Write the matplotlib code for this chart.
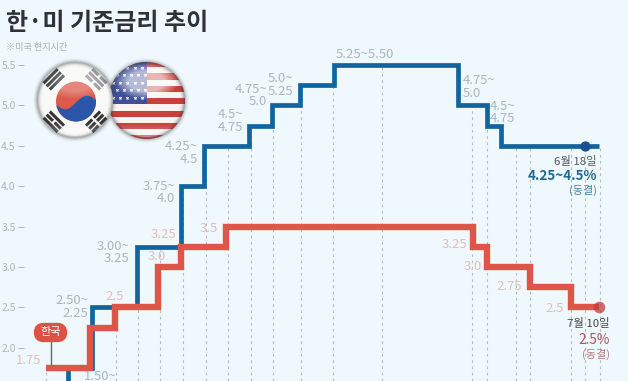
import numpy as np
import matplotlib
matplotlib.use('Agg')
import matplotlib.pyplot as plt
from matplotlib.patches import Circle, Rectangle, Polygon, FancyBboxPatch

BG = '#EEF8FD'
BLUE = '#10659F'
RED = '#E0554A'
GRAY_TXT = '#A9B7BE'
PINK_TXT = '#E3BDB8'
NARROW = ['Liberation Sans Narrow', 'Noto Sans CJK KR']
KOR = ['Noto Sans CJK KR', 'DejaVu Sans']

# step data, x is the position along the time line
us_x = [68, 68, 92, 137, 181, 204, 249, 272, 300, 334, 458, 487, 501, 599]
us_rate = [1.0, 1.75, 2.5, 3.25, 4.0, 4.5, 4.75, 5.0, 5.25, 5.5, 5.0, 4.75, 4.5, 4.5]
kr_x = [46, 90, 115, 158, 181, 226, 473, 487, 530, 571, 599]
kr_rate = [1.75, 2.25, 2.5, 3.0, 3.25, 3.5, 3.25, 3.0, 2.75, 2.5, 2.5]

guide_x = [46, 115.6, 138, 160, 183, 205.6, 228, 250.6, 272.6, 300.6, 333, 381.7,
           472, 486.7, 516, 529.7, 570.7, 585, 599.7]
guide_top = [1.75, 2.5, 3.25, 3.25, 4.0, 4.5, 4.5, 4.75, 5.0, 5.25, 5.5, 5.5,
             5.0, 4.75, 4.5, 4.5, 4.5, 4.5, 4.5]

y_ticks = [2.0, 2.5, 3.0, 3.5, 4.0, 4.5, 5.0, 5.5]

# text, anchor x, centre y of the text, alignment
us_labels = [
    ('1.50~', 117, 376, 'right'),
    ('2.50~\n2.25', 88, 307, 'right'),
    ('3.00~\n3.25', 129, 252.5, 'right'),
    ('3.75~\n4.0', 175, 192.5, 'right'),
    ('4.25~\n4.5', 198, 153, 'right'),
    ('4.5~\n4.75', 243, 121, 'right'),
    ('4.75~\n5.0', 267, 95.5, 'right'),
    ('5.0~\n5.25', 293, 85, 'right'),
    ('5.25~5.50', 336, 54, 'left'),
    ('4.75~\n5.0', 463, 87, 'left'),
    ('4.5~\n4.75', 490, 112.5, 'left'),
]
kr_labels = [
    ('1.75', 41, 361), ('2.5', 124, 297), ('3.0', 166, 257), ('3.25', 176, 235),
    ('3.5', 218, 229), ('3.25', 467, 244), ('3.0', 482, 266), ('2.75', 522, 286),
    ('2.5', 564, 309),
]

fig = plt.figure(figsize=(6.28, 3.81), dpi=100, facecolor=BG)

# main chart, y axis in percent
ax = fig.add_axes([24 / 628, 0, 604 / 628, 1])
ax.set_facecolor(BG)
ax.set_xlim(24, 628)
ax.set_ylim(5.5 - 316 / 80.8, 5.5 + 65 / 80.8)
ax.vlines(guide_x, ax.get_ylim()[0], guide_top, colors='#B3BBBF', lw=0.8,
          linestyles=(0, (2.4, 3.2)), zorder=1)
ax.plot(us_x, us_rate, drawstyle='steps-post', color=BLUE, lw=3.4,
        solid_joinstyle='miter', solid_capstyle='butt', zorder=2)
ax.plot(kr_x, kr_rate, drawstyle='steps-post', color=RED, lw=4.6,
        solid_joinstyle='miter', solid_capstyle='butt', zorder=3)
ax.plot([585], [4.5], 'o', ms=7.4, color='#1A4F96', mew=0, zorder=4)
ax.plot([599], [2.5], 'o', ms=8.4, color='#C43A3A', alpha=0.75, mew=0, zorder=4)
for s in ax.spines.values():
    s.set_visible(False)
ax.set_xticks([])
ax.set_yticks(y_ticks)
ax.set_yticklabels(['%.1f' % v for v in y_ticks], family=NARROW, fontsize=7.5, color=GRAY_TXT)
ax.tick_params(axis='y', length=4, width=0.7, color=GRAY_TXT, pad=2)

# overlay in pixels for the labels and the flags
ov = fig.add_axes([0, 0, 1, 1], facecolor='none')
ov.set_xlim(0, 628)
ov.set_ylim(381, 0)
ov.set_autoscale_on(False)
ov.axis('off')


def gloss(cx, cy, r, top, z):
    n = 220
    span = r + 5
    yy, xx = np.mgrid[-span:span:n * 1j, -span:span:n * 1j]
    d = np.sqrt(xx ** 2 + yy ** 2) / r
    img = np.ones((n, n, 4))
    # dark rim and soft outer shadow
    rim = np.clip((d - 0.86) / 0.14, 0, 1) ** 2 * 0.5
    rim[d > 1] = (np.clip((1 + 5 / r - d[d > 1]) / (5 / r), 0, 1) ** 2) * 0.4
    shine = np.clip(1 - np.sqrt((xx / (0.85 * r)) ** 2 + ((yy + 0.5 * r) / (0.48 * r)) ** 2), 0, 1)
    shine = np.clip(shine * 2.2, 0, 1) * top
    shine[d > 1] = 0
    low = np.clip((yy / r - 0.6) / 0.4, 0, 1) * 0.45
    low[d > 0.96] = 0
    white = np.maximum(shine, low)
    alpha = white + rim * (1 - white)
    shade = 0.25 + 0.75 * white / np.maximum(alpha, 1e-6)
    img[..., 0] = shade
    img[..., 1] = shade
    img[..., 2] = shade
    img[..., 3] = alpha
    ov.imshow(img, extent=(cx - span, cx + span, cy + span, cy - span), aspect='auto',
              interpolation='bilinear', zorder=z)


def us_flag(cx, cy, r):
    c = Circle((cx, cy), r, fc='#F7F4F2', ec='none', zorder=5)
    ov.add_patch(c)
    for top in np.arange(61, 141, 12.4):
        p = ov.add_patch(Rectangle((cx - r, top), 2 * r, 6.2, fc='#C8403A', ec='none', zorder=5))
        p.set_clip_path(c)
    p = ov.add_patch(Rectangle((cx - r, cy - r), r, 41.5, fc='#3E4F98', ec='none', zorder=6))
    p.set_clip_path(c)
    for i, sy in enumerate(np.arange(68, 103, 7.4)):
        shift = 3.5 if i % 2 else 0
        for sx in np.arange(113, 145, 7.2):
            st = ov.scatter(sx + shift, sy, s=9, marker='*', color='white', lw=0, zorder=7)
            st.set_clip_path(c)
    gloss(cx, cy, r, 0.62, 8)


def kr_flag(cx, cy, r):
    ov.add_patch(Circle((cx, cy), r, fc='#F9F9F8', ec='none', zorder=9))
    # taeguk, red disc with a blue lower part under a flat s-curve
    tx, ty, tr = cx + 1, cy + 1, 20
    disc = Circle((tx, ty), tr, fc='#DC5A4C', ec='none', zorder=10)
    ov.add_patch(disc)
    sx = np.linspace(-tr, tr, 60)
    sy = ty + 1 - 0.12 * sx - 5.5 * np.sin(np.pi * sx / tr)
    curve = np.column_stack([tx + sx, sy])
    low = [[tx + tr, ty + tr + 2], [tx - tr, ty + tr + 2]]
    blue = Polygon(np.vstack([curve, low]), closed=True, fc='#2A55A8', ec='none', zorder=10)
    ov.add_patch(blue)
    blue.set_clip_path(disc)
    # trigrams: radial direction, which rows are broken
    bars = [((-1, -1), (0, 0, 0), '#333333'), ((1, -1), (1, 0, 1), '#8F8F8F'),
            ((-1, 1), (0, 1, 0), '#333333'), ((1, 1), (1, 1, 1), '#333333')]
    for (dx, dy), broken, col in bars:
        ux, uy = dx / np.sqrt(2), dy / np.sqrt(2)
        px, py = -uy, ux
        for off, b in zip((-4.4, 0, 4.4), broken):
            mx, my = cx + ux * (30 + off), cy + uy * (30 + off)
            spans = [(-10, -1.2), (1.2, 10)] if b else [(-10, 10)]
            for a, e in spans:
                ov.plot([mx + px * a, mx + px * e], [my + py * a, my + py * e], color=col,
                        lw=2.2, solid_capstyle='butt', zorder=11)
    gloss(cx, cy, r, 0.28, 12)


us_flag(146.7, 100.5, 38.5)
kr_flag(75, 100.5, 38)

# title
ov.text(6, 23, '한·미 기준금리 추이', family=KOR, fontsize=17.3, fontweight='bold',
        color='#2F3336', ha='left', va='center')
ov.text(6, 47, '※미국 현지시간', family=KOR, fontsize=6.6, color='#A6B2B9', ha='left', va='center')

# value labels
for txt, x, y, ha in us_labels:
    ov.text(x, y, txt, family=NARROW, fontsize=9.4, color=GRAY_TXT, ha=ha, va='center',
            multialignment=ha, linespacing=0.95)
for txt, x, y in kr_labels:
    ov.text(x, y, txt, family=NARROW, fontsize=9.4, color=PINK_TXT, ha='right', va='center')

# end notes
ov.text(597, 162, '6월 18일', family=NARROW, fontsize=8.2, color='#55595C', ha='right', va='center')
ov.text(597, 176, '4.25~4.5%', family=NARROW, fontsize=9.7, fontweight='bold', color='#1F6B90', ha='right', va='center')
ov.text(597, 190, '(동결)', family=NARROW, fontsize=8, color='#4A87A5', ha='right', va='center')
ov.text(610, 324, '7월 10일', family=NARROW, fontsize=8.2, color='#45494C', ha='right', va='center')
ov.text(610, 340, '2.5%', family=NARROW, fontsize=9.8, color='#B5545C', ha='right', va='center')
ov.text(610, 354, '(동결)', family=NARROW, fontsize=8, color='#BC7C82', ha='right', va='center')

# korea tag
ov.plot([51, 51], [341, 364], color='#666666', lw=1, zorder=3)
ov.add_patch(FancyBboxPatch((38, 327), 25, 11, boxstyle='round,pad=0,rounding_size=5.5',
                            mutation_aspect=1, fc='#DE5245', ec='#DE5245', lw=6, zorder=4))
ov.text(50.8, 332.5, '한국', family=KOR, fontsize=8, fontweight='medium', color='white',
        ha='center', va='center', zorder=5)

fig.savefig('out.png', dpi=100, facecolor=BG)
